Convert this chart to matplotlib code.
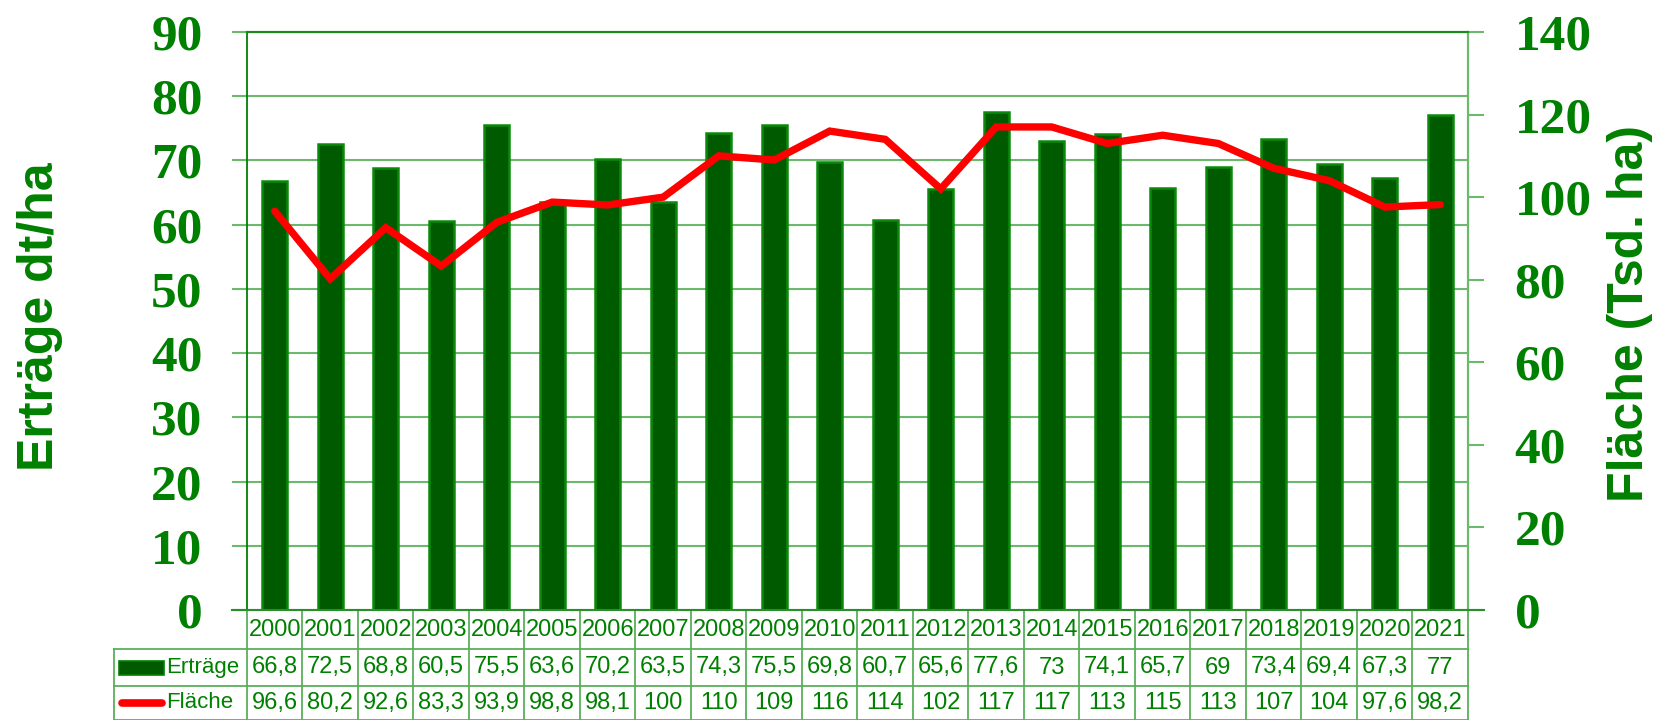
import matplotlib
matplotlib.use("Agg")
import matplotlib.pyplot as plt
import matplotlib.transforms as mtransforms
from matplotlib.lines import Line2D
from matplotlib.patches import Rectangle

years = ["2000", "2001", "2002", "2003", "2004", "2005", "2006", "2007", "2008", "2009", "2010",
         "2011", "2012", "2013", "2014", "2015", "2016", "2017", "2018", "2019", "2020", "2021"]
ertraege = [66.8, 72.5, 68.8, 60.5, 75.5, 63.6, 70.2, 63.5, 74.3, 75.5, 69.8,
            60.7, 65.6, 77.6, 73, 74.1, 65.7, 69, 73.4, 69.4, 67.3, 77]
flaeche = [96.6, 80.2, 92.6, 83.3, 93.9, 98.8, 98.1, 100, 110, 109, 116,
           114, 102, 117, 117, 113, 115, 113, 107, 104, 97.6, 98.2]
ertraege_labels = ["66,8", "72,5", "68,8", "60,5", "75,5", "63,6", "70,2", "63,5", "74,3", "75,5", "69,8",
                   "60,7", "65,6", "77,6", "73", "74,1", "65,7", "69", "73,4", "69,4", "67,3", "77"]
flaeche_labels = ["96,6", "80,2", "92,6", "83,3", "93,9", "98,8", "98,1", "100", "110", "109", "116",
                  "114", "102", "117", "117", "113", "115", "113", "107", "104", "97,6", "98,2"]
left_ticks = [0, 10, 20, 30, 40, 50, 60, 70, 80, 90]
right_ticks = [0, 20, 40, 60, 80, 100, 120, 140]

GREEN = "#008000"
BAR = "#005a00"
GRID = "#6cb86c"
TLINE = "#5aaf5a"
RED = "#ff0000"

W, H = 1656, 720
fig = plt.figure(figsize=(W / 100, H / 100), dpi=100)
L, R, T, B = 247, 1468, 32, 610
ax = fig.add_axes([L / W, 1 - B / H, (R - L) / W, (B - T) / H])
ax2 = ax.twinx()

x = list(range(len(years)))
ax.bar(x, ertraege, width=0.45, color=BAR, edgecolor="#0a8a0a", linewidth=1.8, zorder=3)
ax.set_xlim(-0.5, len(years) - 0.5)
ax.set_ylim(0, 90)
ax.set_yticks(left_ticks)
ax.yaxis.grid(True, color=GRID, linewidth=1.5, zorder=0)
ax.set_axisbelow(True)
ax.set_xticks([])

serif = dict(family="Liberation Serif", weight="bold", size=37)
ax.tick_params(axis="y", length=11, width=1.5, color=GRID, pad=21)
ax.set_yticklabels([str(v) for v in left_ticks], fontdict=serif, color=GREEN)

ax2.plot(x, flaeche, color=RED, linewidth=5.3, solid_capstyle="round",
         solid_joinstyle="miter", zorder=4)
ax2.set_ylim(0, 140)
ax2.set_yticks(right_ticks)
ax2.tick_params(axis="y", length=11.5, width=1.5, color=GRID, pad=22)
ax2.set_yticklabels([str(v) for v in right_ticks], fontdict=serif, color=GREEN)

for a in (ax, ax2):
    a.spines["top"].set_color("#1a8a1a")
    a.spines["top"].set_linewidth(1.5)
    a.spines["bottom"].set_visible(False)
    a.spines["left"].set_color(GREEN)
    a.spines["left"].set_linewidth(1.3)
    a.spines["right"].set_color(GRID)
    a.spines["right"].set_linewidth(1.5)
ax2.spines["left"].set_visible(False)

# axis labels
sans = dict(family="Liberation Sans", weight="bold", size=36, color=GREEN)
fig.text(40 / W, 1 - 317 / H, "Erträge dt/ha", rotation=90, ha="center", va="center", **sans)
fig.text(1630 / W, 1 - 314 / H, "Fläche (Tsd. ha)", rotation=90, ha="center", va="center", **sans)

# data table below the chart
def fy(py):
    return 1 - py / H

def fx(px):
    return px / W

tr = mtransforms.blended_transform_factory(ax.transData, fig.transFigure)
n = len(years)
fig.add_artist(Line2D([fx(232), fx(1484)], [fy(610), fy(610)], color="#2a8f2a", linewidth=1.5))
for i in range(n + 1):
    ax.add_line(Line2D([i - 0.5, i - 0.5], [fy(610), fy(722)], transform=tr, color=TLINE,
                       linewidth=1.3, clip_on=False))
for py in (649, 686, 719.5):
    fig.add_artist(Line2D([fx(114), fx(1468)], [fy(py), fy(py)], color=TLINE, linewidth=1.3))
fig.add_artist(Line2D([fx(114), fx(114)], [fy(649), fy(722)], color=TLINE, linewidth=1.3))

tfont = dict(family=["Liberation Sans", "DejaVu Sans"], size=17, color=GREEN)
rows = [(629.5, years), (667.5, ertraege_labels), (703, flaeche_labels)]
for py, labels in rows:
    for i, lab in enumerate(labels):
        ax.text(i, fy(py), lab, transform=tr, ha="center", va="center", clip_on=False, **tfont)

lfont = dict(family=["Liberation Sans", "DejaVu Sans"], size=16, color=GREEN)
fig.add_artist(Rectangle((fx(119), fy(674.5)), fx(164) - fx(119), 14 / H,
                         facecolor=BAR, edgecolor=GREEN, linewidth=1.2))
fig.text(fx(166), fy(667.5), "Erträge", ha="left", va="center", **lfont)
fig.add_artist(Line2D([fx(122), fx(162)], [fy(703), fy(703)], color=RED, linewidth=5.5,
                      solid_capstyle="round"))
fig.text(fx(166), fy(703), "Fläche", ha="left", va="center", **lfont)

fig.savefig("out.png", dpi=100, facecolor="white")
